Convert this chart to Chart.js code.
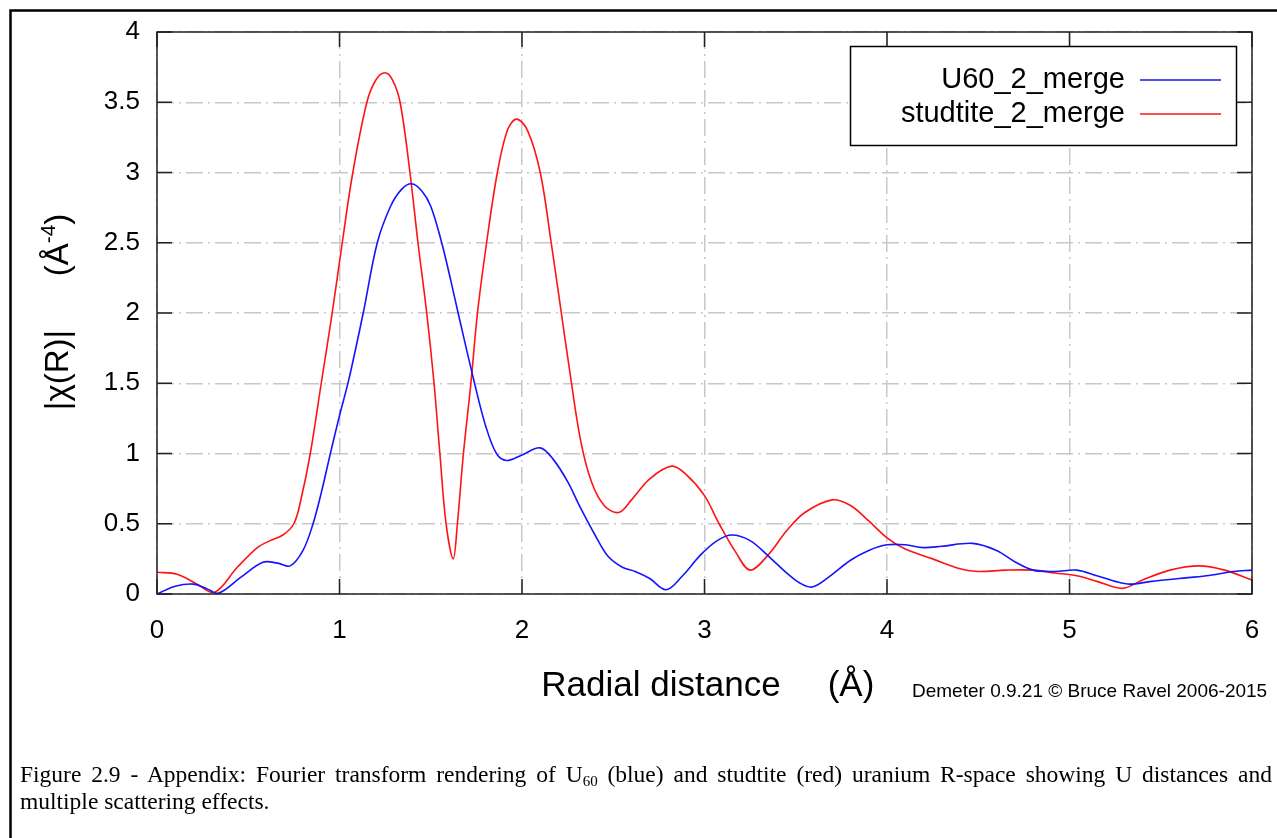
<!DOCTYPE html>
<html>
<head>
<meta charset="utf-8">
<script src="https://cdn.jsdelivr.net/npm/chart.js@4.4.1/dist/chart.umd.min.js"></script>
<style>
    html, body { margin: 0; padding: 0; background: #fff; }
    body { width: 1277px; height: 838px; position: relative; overflow: hidden; }
    #chart { position: absolute; left: 0; top: 0; }
    .caption {
        position: absolute; left: 20px; width: 1252px;
        font-family: "Liberation Serif", "Times New Roman", serif;
        font-size: 23.5px; line-height: 27px; color: #000;
    }
    #cap1 { top: 761px; text-align: justify; text-align-last: justify; white-space: nowrap; }
    #cap2 { top: 788px; }
    sub { font-size: 15px; vertical-align: -4px; line-height: 0; }
</style>
</head>
<body>
<canvas id="chart" width="1277" height="838"></canvas>
<div class="caption" id="cap1">Figure 2.9 - Appendix: Fourier transform rendering of U<sub>60</sub> (blue) and studtite (red) uranium R-space showing U distances and</div>
<div class="caption" id="cap2">multiple scattering effects.</div>
<script>
// Data
const seriesNames = ['U60_2_merge', 'studtite_2_merge'];

const blueR = [0, 0.1, 0.2, 0.27, 0.335, 0.46, 0.58, 0.66, 0.73, 0.8, 0.855, 0.9, 0.95, 1.0, 1.05, 1.13, 1.207,
    1.28, 1.34, 1.395, 1.45, 1.5, 1.56, 1.61, 1.65, 1.74, 1.8, 1.86, 1.916, 2.0, 2.099, 2.17, 2.25, 2.318, 2.4,
    2.47, 2.55, 2.62, 2.7, 2.79, 2.88, 2.98, 3.07, 3.15, 3.25, 3.35, 3.45, 3.52, 3.59, 3.68, 3.8, 3.9, 4.0,
    4.1, 4.2, 4.3, 4.47, 4.6, 4.7, 4.8, 4.92, 5.04, 5.15, 5.25, 5.33, 5.45, 5.6, 5.75, 5.9, 6.0];
const blueVal = [0, 0.055, 0.07, 0.04, 0.005, 0.12, 0.226, 0.22, 0.2, 0.31, 0.5, 0.72, 1.0, 1.27, 1.52, 2.0, 2.5,
    2.76, 2.88, 2.92, 2.87, 2.76, 2.5, 2.23, 2.0, 1.5, 1.2, 1.0, 0.95, 0.99, 1.04, 0.96, 0.8, 0.62, 0.42,
    0.27, 0.19, 0.16, 0.11, 0.03, 0.13, 0.28, 0.38, 0.42, 0.38, 0.27, 0.15, 0.08, 0.05, 0.12, 0.24, 0.31, 0.35,
    0.35, 0.33, 0.34, 0.36, 0.31, 0.23, 0.17, 0.16, 0.17, 0.13, 0.09, 0.07, 0.09, 0.11, 0.13, 0.16, 0.17];

const redR = [0, 0.11, 0.22, 0.314, 0.44, 0.55, 0.62, 0.69, 0.75, 0.79, 0.84, 0.9, 0.96, 1.015, 1.073, 1.15,
    1.2, 1.249, 1.29, 1.332, 1.386, 1.43, 1.478, 1.518, 1.55, 1.584, 1.623, 1.646, 1.679, 1.72, 1.756,
    1.806, 1.865, 1.92, 1.97, 2.03, 2.1, 2.16, 2.21, 2.26, 2.32, 2.38, 2.45, 2.53, 2.6, 2.7, 2.82, 2.9, 3.0,
    3.08, 3.17, 3.25, 3.35, 3.45, 3.55, 3.7, 3.8, 3.9, 4.0, 4.1, 4.25, 4.4, 4.5, 4.65, 4.8, 4.92, 5.04, 5.15,
    5.29, 5.4, 5.55, 5.71, 5.85, 6.0];
const redVal = [0.155, 0.14, 0.07, 0.01, 0.19, 0.33, 0.38, 0.42, 0.5, 0.68, 1.0, 1.5, 2.0, 2.5, 3.0, 3.5,
    3.66, 3.71, 3.66, 3.5, 3.0, 2.5, 2.0, 1.5, 1.0, 0.5, 0.25, 0.5, 1.0, 1.5, 2.0,
    2.5, 3.0, 3.3, 3.38, 3.3, 3.0, 2.5, 2.05, 1.6, 1.1, 0.8, 0.63, 0.58, 0.67, 0.82, 0.91, 0.85, 0.7,
    0.5, 0.3, 0.17, 0.28, 0.45, 0.58, 0.67, 0.63, 0.52, 0.4, 0.32, 0.25, 0.18, 0.16, 0.17, 0.17, 0.15, 0.13, 0.09,
    0.04, 0.1, 0.17, 0.2, 0.17, 0.1];

const xTicks = [0, 1, 2, 3, 4, 5, 6];
const yTicks = [0, 0.5, 1, 1.5, 2, 2.5, 3, 3.5, 4];

const sans = '"Liberation Sans", Arial, sans-serif';

function toPoints(xs, ys) {
    return xs.map((x, i) => ({ x: x, y: ys[i] }));
}

// frame, inward ticks, legend box and axis titles, gnuplot style
const gnuplotDecor = {
    id: 'gnuplotDecor',
    afterDraw(chart) {
        const ctx = chart.ctx;
        const area = chart.chartArea;
        const xs = chart.scales.x;
        const ys = chart.scales.y;
        ctx.save();

        // page frame
        ctx.strokeStyle = '#000';
        ctx.lineWidth = 2.5;
        ctx.beginPath();
        ctx.moveTo(10.5, 900);
        ctx.lineTo(10.5, 10.5);
        ctx.lineTo(1300, 10.5);
        ctx.stroke();

        // plot border
        ctx.lineWidth = 1.5;
        ctx.strokeStyle = '#222';
        ctx.strokeRect(area.left, area.top, area.right - area.left, area.bottom - area.top);

        // inward tick marks on all four sides
        ctx.beginPath();
        xTicks.forEach(v => {
            const px = xs.getPixelForValue(v);
            ctx.moveTo(px, area.bottom);
            ctx.lineTo(px, area.bottom - 15);
            ctx.moveTo(px, area.top);
            ctx.lineTo(px, area.top + 15);
        });
        yTicks.forEach(v => {
            const py = ys.getPixelForValue(v);
            ctx.moveTo(area.left, py);
            ctx.lineTo(area.left + 15, py);
            ctx.moveTo(area.right, py);
            ctx.lineTo(area.right - 15, py);
        });
        ctx.stroke();

        // legend
        ctx.fillStyle = '#fff';
        ctx.fillRect(850, 46, 387, 100);
        ctx.strokeStyle = '#000';
        ctx.lineWidth = 1.5;
        ctx.strokeRect(850.5, 46.5, 386, 99);
        ctx.font = '29px ' + sans;
        ctx.textAlign = 'right';
        ctx.textBaseline = 'middle';
        chart.data.datasets.forEach((ds, i) => {
            const y = 80 + i * 34;
            ctx.fillStyle = '#000';
            ctx.fillText(ds.label, 1125, y);
            ctx.strokeStyle = ds.borderColor;
            ctx.lineWidth = 1.6;
            ctx.beginPath();
            ctx.moveTo(1140, y);
            ctx.lineTo(1221, y);
            ctx.stroke();
        });

        // x axis title
        ctx.fillStyle = '#000';
        ctx.textBaseline = 'alphabetic';
        ctx.textAlign = 'center';
        ctx.font = '35px ' + sans;
        ctx.fillText('Radial distance', 661, 696);
        ctx.fillText('(Å)', 851, 696);
        ctx.font = '19px ' + sans;
        ctx.textAlign = 'left';
        ctx.fillText('Demeter 0.9.21 © Bruce Ravel 2006-2015', 912, 697, 356);

        // y axis title, rotated
        ctx.translate(68, 0);
        ctx.rotate(-Math.PI / 2);
        ctx.font = '33px ' + sans;
        ctx.textAlign = 'center';
        ctx.fillText('|χ(R)|', -370, 0);
        const big = '33px ' + sans, small = '21px ' + sans;
        ctx.font = big;
        const w1 = ctx.measureText('(Å').width;
        const w3 = ctx.measureText(')').width;
        ctx.font = small;
        const w2 = ctx.measureText('-4').width;
        let u = -245 - (w1 + w2 + w3) / 2;
        ctx.textAlign = 'left';
        ctx.font = big;
        ctx.fillText('(Å', u, 0);
        ctx.font = small;
        ctx.fillText('-4', u + w1, -13);
        ctx.font = big;
        ctx.fillText(')', u + w1 + w2, 0);

        ctx.restore();
    }
};

const chart = new Chart(document.getElementById('chart'), {
    type: 'line',
    data: {
        datasets: [{
            label: seriesNames[0],
            data: toPoints(blueR, blueVal),
            borderColor: 'rgb(20, 20, 255)',
            borderWidth: 1.6,
            pointRadius: 0,
            tension: 0.35,
            fill: false
        }, {
            label: seriesNames[1],
            data: toPoints(redR, redVal),
            borderColor: 'rgb(255, 20, 20)',
            borderWidth: 1.6,
            pointRadius: 0,
            tension: 0.35,
            fill: false
        }]
    },
    options: {
        responsive: false,
        animation: false,
        layout: { padding: { left: 0, top: 32, right: 25, bottom: 194 } },
        plugins: {
            legend: { display: false },
            tooltip: { enabled: false }
        },
        scales: {
            x: {
                type: 'linear',
                min: 0,
                max: 6,
                afterBuildTicks: (s) => { s.ticks = xTicks.map(v => ({ value: v })); },
                afterFit: (s) => { s.height = 50; s.paddingLeft = 0; s.paddingRight = 0; },
                ticks: { color: '#000', font: { size: 26, family: sans }, padding: 21, maxRotation: 0,
                    callback: (v) => String(v) },
                grid: { color: '#c8c8c8', lineWidth: 1.5, drawTicks: false },
                border: { display: false, dash: [17, 5, 2, 5] }
            },
            y: {
                min: 0,
                max: 4,
                afterBuildTicks: (s) => { s.ticks = yTicks.map(v => ({ value: v })); },
                afterFit: (s) => { s.width = 157; s.paddingTop = 0; s.paddingBottom = 0; },
                ticks: { color: '#000', font: { size: 26, family: sans }, padding: 17,
                    callback: (v) => String(v) },
                grid: { color: '#c8c8c8', lineWidth: 1.5, drawTicks: false },
                border: { display: false, dash: [17, 5, 2, 5] }
            }
        }
    },
    plugins: [gnuplotDecor]
});
</script>
</body>
</html>
